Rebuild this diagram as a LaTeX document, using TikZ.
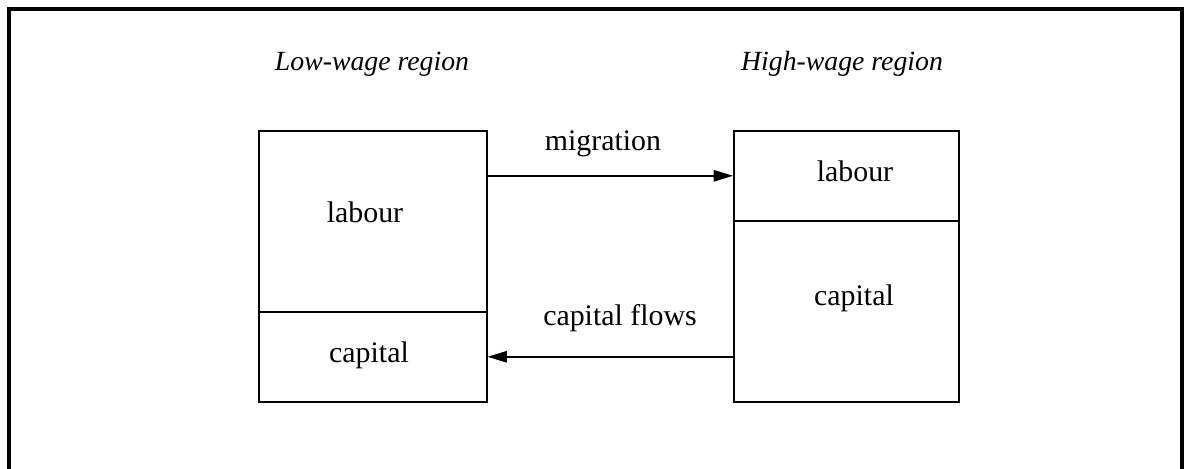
\documentclass[tikz,border=0pt]{standalone}
\usepackage{fontspec}
\setmainfont{Liberation Serif}
\usetikzlibrary{arrows.meta}
\begin{document}
\begin{tikzpicture}[x=0.02cm,y=-0.02cm,
  every node/.style={font=\fontsize{17}{20}\selectfont},
  part/.style={draw, line width=0.9pt, inner sep=0pt, anchor=north west},
  lbl/.style={inner sep=0pt},
  ttl/.style={inner sep=0pt, font=\fontsize{15.8}{19}\selectfont\itshape},
  arr/.style={line width=0.9pt, -{Triangle[length=11pt,width=6.5pt]}},
  frame/.style={line width=1.9pt}]
\clip (0,0) rectangle (1185,468);
\fill[white] (0,0) rectangle (1185,468);
\draw[frame] (9,9) rectangle (1182,490);
% left region
\node[part, minimum width=228*0.02cm, minimum height=181*0.02cm] (lt) at (258,130) {};
\node[part, minimum width=228*0.02cm, minimum height=90*0.02cm] (lb) at (258,311) {};
% right region
\node[part, minimum width=225*0.02cm, minimum height=90*0.02cm] (rt) at (733,130) {};
\node[part, minimum width=225*0.02cm, minimum height=181*0.02cm] (rb) at (733,220) {};
\node[lbl] (ltl) at (365,212) {labour};
\node[lbl] (lbl) at (369,355) {capital};
\node[lbl] (rtl) at (855,171) {labour};
\node[lbl] (rbl) at (854,298) {capital};
\node[ttl] (lowt) at (372,64) {Low-wage region};
\node[ttl] (hight) at (842,64) {High-wage region};
\draw[arr] (lt.east |- rt.center) -- (rt.west);
\draw[arr] (rb.west |- lb.center) -- (lb.east);
\node[lbl] (mig) at (603,144) {migration};
\node[lbl] (cap) at (620,318) {capital flows};
\end{tikzpicture}
\end{document}
